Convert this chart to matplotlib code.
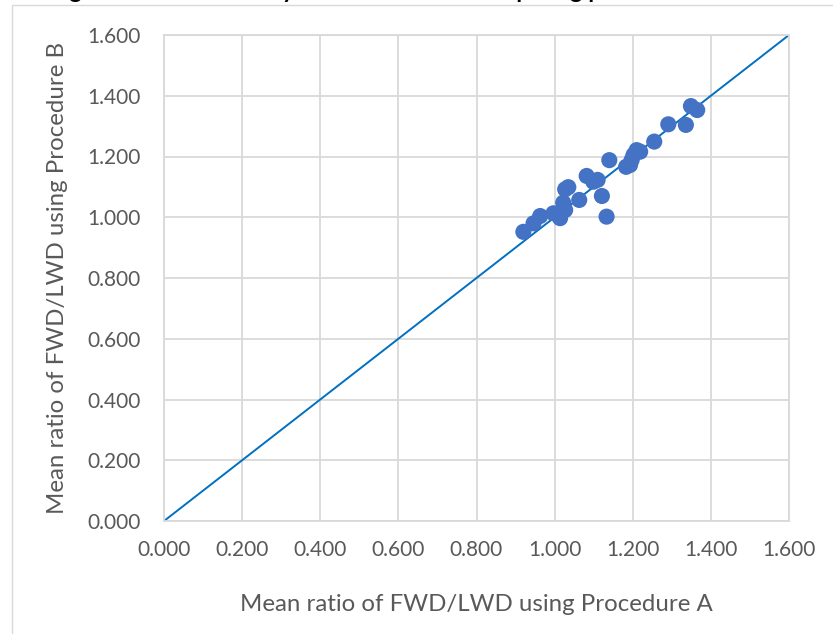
import matplotlib
matplotlib.use("Agg")
import matplotlib.pyplot as plt
from matplotlib.patches import Rectangle

# Data
proc_a = [0.920, 0.946, 0.963, 0.997, 1.014, 1.027, 1.022, 1.027, 1.035, 1.063,
          1.082, 1.099, 1.110, 1.121, 1.133, 1.140, 1.183, 1.193, 1.197, 1.202,
          1.210, 1.219, 1.255, 1.291, 1.336, 1.349, 1.365]
proc_b = [0.952, 0.980, 1.004, 1.013, 0.997, 1.024, 1.048, 1.092, 1.099, 1.057,
          1.136, 1.117, 1.123, 1.070, 1.002, 1.188, 1.166, 1.172, 1.188, 1.205,
          1.221, 1.216, 1.249, 1.306, 1.304, 1.366, 1.353]
line_x = [0.0, 1.6]
line_y = [0.0, 1.6]
ticks = [0.0, 0.2, 0.4, 0.6, 0.8, 1.0, 1.2, 1.4, 1.6]
xlabel = "Mean ratio of FWD/LWD using Procedure A"
ylabel = "Mean ratio of FWD/LWD using Procedure B"
title = "Figure 9. Mean ratio by Procedure A vs. comparing procedure B"

plt.rcParams['font.family'] = ['Lato', 'DejaVu Sans']

W, H = 833, 634
fig = plt.figure(figsize=(W / 100, H / 100), dpi=100)

# chart border box (cropped at right/bottom)
fig.patches.append(Rectangle((12 / W, -0.05), 1.1, 1 - 5 / H + 0.05,
                             transform=fig.transFigure, fill=False,
                             edgecolor='#D9D9D9', linewidth=1.0, zorder=0))
# cropped title (only descenders visible, as in the reference)
fig.text(0.06, 1 + 1.5 / H, title, ha='left', va='baseline',
         fontsize=17, fontweight='bold', color='black')

ax = fig.add_axes([164 / W, 1 - 521 / H, (789 - 164) / W, (521 - 35) / H])
ax.plot(line_x, line_y, color='#0070C0', linewidth=1.4, zorder=2)
ax.scatter(proc_a, proc_b, s=135, color='#4472C4', edgecolors='none', zorder=3)

ax.set_xlim(0, 1.6)
ax.set_ylim(0, 1.6)
ax.set_xticks(ticks)
ax.set_yticks(ticks)
ax.set_xticklabels([f"{t:.3f}" for t in ticks])
ax.set_yticklabels([f"{t:.3f}" for t in ticks])
ax.grid(True, color='#D9D9D9', linewidth=1.3, zorder=0)
ax.set_axisbelow(True)
for s in ax.spines.values():
    s.set_color('#D9D9D9')
    s.set_linewidth(1.3)
ax.tick_params(length=0, labelsize=15, colors='#595959')
ax.tick_params(axis='x', pad=14)
ax.tick_params(axis='y', pad=17)
ax.set_xlabel(xlabel, fontsize=17.3, color='#595959', labelpad=24)
ax.set_ylabel(ylabel, fontsize=17.3, color='#595959', labelpad=14)

fig.savefig("out.png", dpi=100)
